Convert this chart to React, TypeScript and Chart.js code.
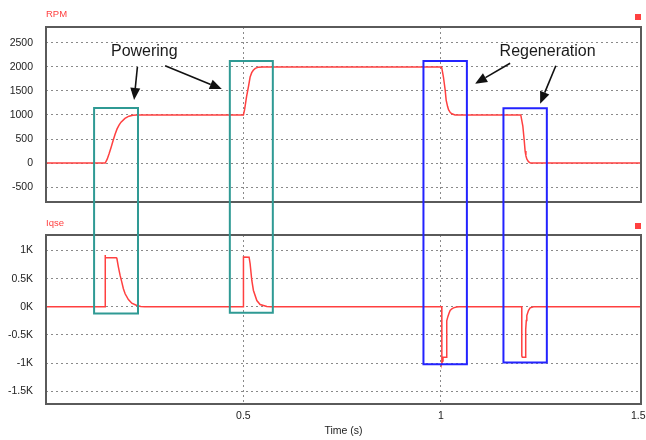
import React, { useEffect, useRef } from 'react';
import { Chart, registerables } from 'chart.js';
Chart.register(...registerables);

// ---- data ----
const rpmTime = [0, 0.15, 0.155, 0.16, 0.165, 0.17, 0.175, 0.18, 0.185, 0.19, 0.2, 0.21, 0.22, 0.23, 0.5, 0.503, 0.508, 0.513, 0.517, 0.521, 0.525, 0.53, 0.538, 0.55, 1.002, 1.0066, 1.011, 1.0135, 1.017, 1.0195, 1.024, 1.028, 1.036, 1.2025, 1.2077, 1.211, 1.2135, 1.2155, 1.218, 1.222, 1.227, 1.507];
const rpmValues = [0, 0, 80, 200, 330, 470, 600, 710, 790, 850, 930, 975, 995, 1000, 1000, 1110, 1380, 1600, 1790, 1880, 1930, 1970, 1995, 2000, 2000, 1790, 1520, 1310, 1180, 1110, 1050, 1025, 1000, 1000, 770, 490, 250, 150, 80, 30, 0, 0];

const iqseTime = [0, 0.1497, 0.1499, 0.1503, 0.178, 0.1795, 0.1834, 0.1877, 0.192, 0.196, 0.2004, 0.2087, 0.2173, 0.23, 0.24, 0.25,
  0.4999, 0.5001, 0.5144, 0.517, 0.5213, 0.5254, 0.534, 0.5423, 0.5593, 0.57,
  1.0024, 1.0026, 1.004, 1.0055, 1.0135, 1.0145, 1.0155, 1.018, 1.021, 1.0236, 1.028, 1.032, 1.04, 1.046,
  1.2049, 1.2051, 1.2065, 1.2135, 1.215, 1.2165, 1.2178, 1.2219, 1.2262, 1.235, 1.507];
const iqseValues = [0, 0, 920, 870, 870, 860, 705, 557, 438, 320, 231, 130, 64, 23, 5, 0,
  0, 883, 880, 765, 468, 290, 112, 41, 5, 0,
  0, -1000, -960, -895, -895, -400, -250, -170, -110, -66, -35, -18, -5, 0,
  0, -870, -895, -895, -400, -244, -155, -66, -18, 0, 0];

const timeTicks = [0.5, 1, 1.5];
const rpmTicks = [-500, 0, 500, 1000, 1500, 2000, 2500];
const iqseTicks = [-1500, -1000, -500, 0, 500, 1000];

// annotation boxes (time range, top in RPM units, bottom in Iqse units)
const boxT0 = [0.1218, 0.4656, 0.956, 1.1586];
const boxT1 = [0.233, 0.5745, 1.066, 1.2685];
const boxRpmTop = [1145, 2123, 2123, 1139];
const boxIqseBottom = [-117, -107, -1019, -989];
const boxKind = ['powering', 'powering', 'regen', 'regen'];

// annotation arrows (time, rpm) from -> to
const arrowFromT = [0.2315, 0.3017, 1.1755, 1.2913];
const arrowFromV = [1998, 2025, 2075, 2025];
const arrowToT = [0.2231, 0.4453, 1.0868, 1.2515];
const arrowToV = [1312, 1540, 1650, 1235];

const noteText = ['Powering', 'Regeneration'];
const noteT = [0.249, 1.2705];
const noteV = [2316, 2316];

const FONT = '"Liberation Sans", Arial, sans-serif';
const RED = '#ff4040';
const BOX_COLORS: Record<string, string> = { powering: '#2f9a94', regen: '#2323ff' };

function overlay(panel: 'top' | 'bottom') {
  return {
    id: 'overlay_' + panel,
    afterDraw(chart: any) {
      const { ctx, chartArea: a, scales } = chart;
      const x = scales.x, y = scales.y;
      ctx.save();
      // plot border
      ctx.strokeStyle = '#5a5a5a';
      ctx.lineWidth = 2;
      ctx.strokeRect(a.left, a.top, a.right - a.left, a.bottom - a.top);
      // panel title and marker
      ctx.fillStyle = RED;
      ctx.font = '9.5px ' + FONT;
      ctx.textAlign = 'left';
      ctx.textBaseline = 'alphabetic';
      ctx.fillText(panel === 'top' ? 'RPM' : 'Iqse', a.left, a.top - (panel === 'top' ? 10 : 9));
      ctx.fillRect(a.right - 6, a.top - (panel === 'top' ? 13 : 12), 6, 6);
      // boxes
      ctx.lineWidth = 2;
      for (let i = 0; i < boxT0.length; i++) {
        const x0 = x.getPixelForValue(boxT0[i]);
        const x1 = x.getPixelForValue(boxT1[i]);
        ctx.strokeStyle = BOX_COLORS[boxKind[i]];
        ctx.beginPath();
        if (panel === 'top') {
          const yt = y.getPixelForValue(boxRpmTop[i]);
          const yb = chart.height + 3;
          ctx.moveTo(x0, yb); ctx.lineTo(x0, yt); ctx.lineTo(x1, yt); ctx.lineTo(x1, yb);
        } else {
          const yb = y.getPixelForValue(boxIqseBottom[i]);
          const yt = -3;
          ctx.moveTo(x0, yt); ctx.lineTo(x0, yb); ctx.lineTo(x1, yb); ctx.lineTo(x1, yt);
        }
        ctx.stroke();
      }
      if (panel === 'top') {
        // arrows
        ctx.strokeStyle = '#111';
        ctx.fillStyle = '#111';
        for (let i = 0; i < arrowFromT.length; i++) {
          const sx = x.getPixelForValue(arrowFromT[i]);
          const sy = y.getPixelForValue(arrowFromV[i]);
          const ex = x.getPixelForValue(arrowToT[i]);
          const ey = y.getPixelForValue(arrowToV[i]);
          const ang = Math.atan2(ey - sy, ex - sx);
          const hl = 12, hw = 5;
          const bx = ex - hl * Math.cos(ang), by = ey - hl * Math.sin(ang);
          ctx.lineWidth = 1.6;
          ctx.beginPath(); ctx.moveTo(sx, sy); ctx.lineTo(bx, by); ctx.stroke();
          ctx.beginPath();
          ctx.moveTo(ex, ey);
          ctx.lineTo(bx + hw * Math.sin(ang), by - hw * Math.cos(ang));
          ctx.lineTo(bx - hw * Math.sin(ang), by + hw * Math.cos(ang));
          ctx.closePath(); ctx.fill();
        }
        // notes
        ctx.fillStyle = '#1a1a1a';
        ctx.font = '16px ' + FONT;
        ctx.textAlign = 'center';
        ctx.textBaseline = 'middle';
        for (let i = 0; i < noteText.length; i++) {
          ctx.fillText(noteText[i], x.getPixelForValue(noteT[i]), y.getPixelForValue(noteV[i]));
        }
      }
      ctx.restore();
    },
  };
}

function makeConfig(panel: 'top' | 'bottom'): any {
  const isTop = panel === 'top';
  const times = isTop ? rpmTime : iqseTime;
  const values = isTop ? rpmValues : iqseValues;
  const yTicks = isTop ? rpmTicks : iqseTicks;
  return {
    type: 'line',
    data: {
      datasets: [{
        data: times.map((t, i) => ({ x: t, y: values[i] })),
        borderColor: RED,
        borderWidth: 1.5,
        pointRadius: 0,
        tension: 0,
        fill: false,
      }],
    },
    options: {
      responsive: false,
      animation: false,
      events: [],
      layout: { padding: isTop ? { left: 0, right: 5, top: 27, bottom: 10 } : { left: 0, right: 5, top: 23, bottom: 0 } },
      plugins: { legend: { display: false }, tooltip: { enabled: false }, title: { display: false } },
      scales: {
        x: {
          type: 'linear',
          min: 0,
          max: 1.507,
          afterBuildTicks: (s: any) => { s.ticks = timeTicks.map((v) => ({ value: v })); },
          afterFit: (s: any) => { s.height = isTop ? 0 : 36; s.paddingLeft = 0; s.paddingRight = 0; },
          grid: {
            drawTicks: false,
            lineWidth: 1,
            color: (c: any) => (c.tick && (c.tick.value === 0.5 || c.tick.value === 1) ? '#8a8a8a' : 'rgba(0,0,0,0)'),
          },
          border: { display: false, dash: [2, 3] },
          ticks: {
            display: !isTop,
            padding: 6,
            color: '#222',
            font: { size: 10.5, family: FONT },
            maxRotation: 0,
            autoSkip: false,
            callback: (v: any) => String(v),
          },
          title: {
            display: !isTop,
            text: 'Time (s)',
            color: '#222',
            font: { size: 10.5, family: FONT },
            padding: { top: 0, bottom: 3 },
          },
        },
        y: {
          type: 'linear',
          min: isTop ? -810 : -1725,
          max: isTop ? 2830 : 1275,
          afterBuildTicks: (s: any) => { s.ticks = yTicks.map((v) => ({ value: v })); },
          afterFit: (s: any) => { s.width = 46; s.paddingTop = 0; s.paddingBottom = 0; },
          grid: { drawTicks: false, lineWidth: 1, color: '#8a8a8a' },
          border: { display: false, dash: [2, 3] },
          ticks: {
            padding: 13,
            color: '#222',
            font: { size: 10.5, family: FONT },
            callback: (v: any) => (isTop ? String(v) : String(v / 1000) + 'K'),
          },
        },
      },
    },
    plugins: [overlay(panel)],
  };
}

function Panel({ panel, height }: { panel: 'top' | 'bottom'; height: number }) {
  const ref = useRef<HTMLCanvasElement | null>(null);
  useEffect(() => {
    if (!ref.current) return;
    const chart = new Chart(ref.current, makeConfig(panel));
    return () => chart.destroy();
  }, [panel]);
  return <canvas ref={ref} width={646} height={height} style={{ display: 'block', width: 646, height }} />;
}

export default function App() {
  return (
    <div style={{ position: 'fixed', left: 0, top: 0, width: 646, height: 440, background: '#fff' }}>
      <Panel panel="top" height={212} />
      <Panel panel="bottom" height={228} />
    </div>
  );
}
